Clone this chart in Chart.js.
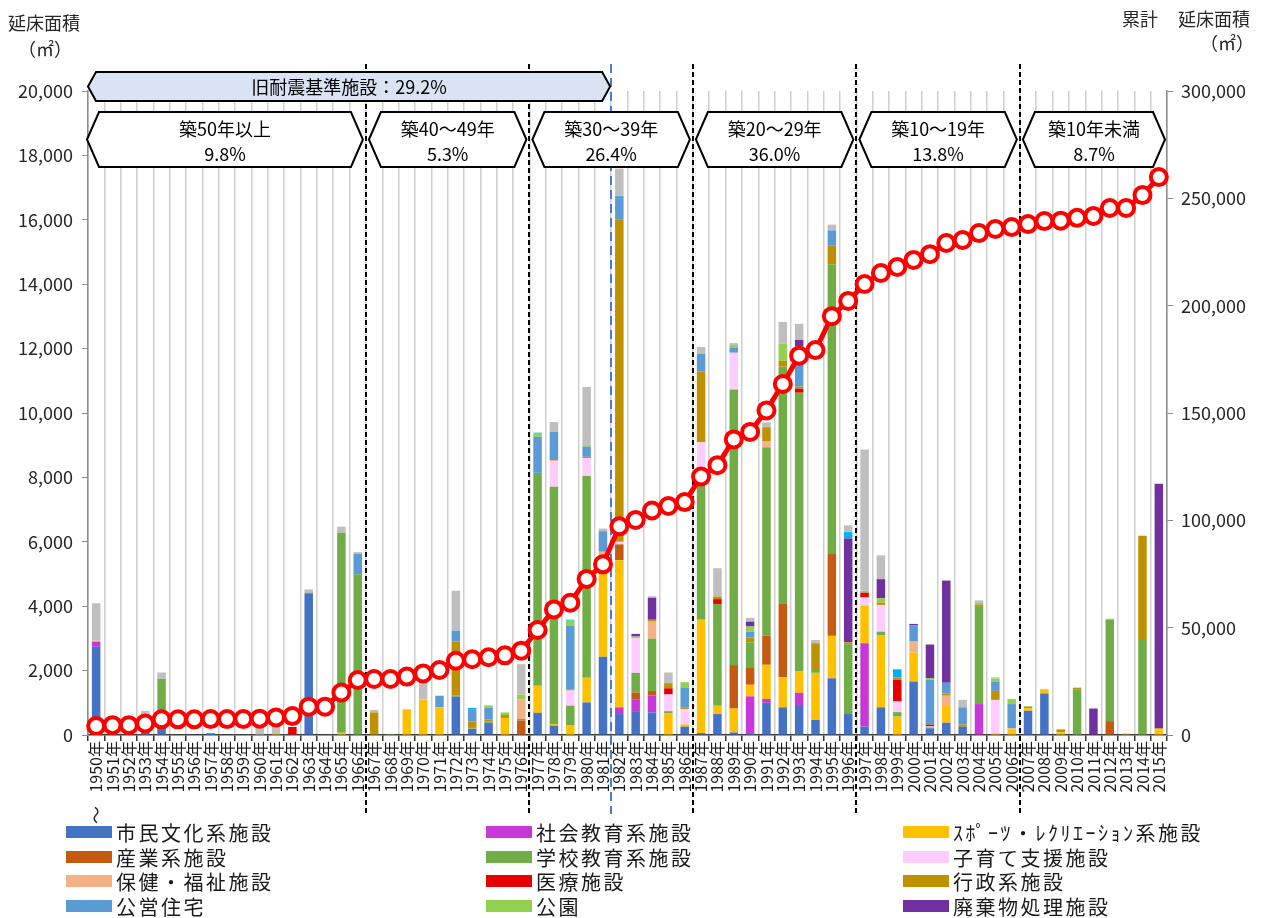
<!DOCTYPE html>
<html>
<head>
<meta charset="utf-8">
<script src="https://cdn.jsdelivr.net/npm/chart.js@4/dist/chart.umd.min.js"></script>
<style>
html,body{margin:0;padding:0;background:#fff;}
canvas{display:block;}
</style>
</head>
<body>
<canvas id="c" width="1261" height="918"></canvas>
<script>
// ---------- categories ----------
const years = [
'1950年','1951年','1952年','1953年','1954年','1955年','1956年','1957年','1958年','1959年',
'1960年','1961年','1962年','1963年','1964年','1965年','1966年','1967年','1968年','1969年',
'1970年','1971年','1972年','1973年','1974年','1975年','1976年','1977年','1978年','1979年',
'1980年','1981年','1982年','1983年','1984年','1985年','1986年','1987年','1988年','1989年',
'1990年','1991年','1992年','1993年','1994年','1995年','1996年','1997年','1998年','1999年',
'2000年','2001年','2002年','2003年','2004年','2005年','2006年','2007年','2008年','2009年',
'2010年','2011年','2012年','2013年','2014年','2015年'];

// ---------- series values (m2 per year) ----------
const civic = [
2740,0,0,450,300,0,0,0,0,0,
0,0,0,4400,0,0,0,0,0,0,
0,0,1190,200,380,0,0,690,290,0,
1010,2430,650,740,700,0,260,60,650,80,
60,1000,860,900,470,1760,650,260,860,0,
1660,210,380,260,0,0,0,750,1290,0,
0,0,0,0,0,0];
const socialEdu = [
160,0,0,0,0,0,0,0,0,0,
0,0,0,0,0,0,0,0,0,0,
0,0,0,0,0,0,0,0,0,0,
0,0,210,370,530,0,0,0,0,0,
1140,120,0,410,0,0,0,2590,0,0,
0,0,0,0,960,0,0,0,0,0,
0,0,0,0,0,0];
const sports = [
0,0,0,0,0,0,0,0,0,0,
0,30,0,0,0,70,0,0,0,800,
1100,860,0,20,0,530,0,840,50,310,
770,3160,4570,0,0,680,70,3520,260,740,
360,1060,930,660,1460,1320,0,1170,2230,570,
900,40,550,0,0,50,180,80,120,80,
0,0,0,0,0,180];
const industry = [
0,0,0,0,0,0,0,0,0,0,
0,0,0,0,0,0,0,0,0,0,
0,0,0,0,0,0,450,0,0,0,
0,0,490,210,140,0,0,0,0,1350,
520,900,2300,0,0,2540,0,0,0,0,
0,0,0,0,0,0,0,0,0,0,
0,0,430,0,0,0];
const school = [
0,0,0,0,1440,0,0,0,0,0,
0,0,0,0,0,6210,4990,0,30,0,
0,0,40,0,40,0,50,6610,7370,600,
6260,0,0,610,1620,60,0,4160,3160,8560,
800,5860,7350,8660,120,8990,2170,0,120,140,
0,0,0,0,3020,0,0,0,0,0,
1420,0,3160,0,2980,0];
const childcare = [
0,0,0,0,0,0,0,0,0,0,
0,0,0,0,0,0,0,0,0,0,
0,0,0,0,0,0,0,0,800,470,
560,0,80,1080,0,520,470,1350,0,1140,
0,0,0,0,0,0,0,250,830,330,
0,0,0,0,0,1040,0,0,0,0,
0,0,0,0,0,0];
const welfare = [
30,0,0,0,0,0,0,0,0,0,
0,0,0,0,0,0,0,0,0,0,
0,0,0,0,0,0,610,0,30,0,
0,100,0,0,530,0,0,0,0,0,
0,190,0,0,0,0,0,0,0,0,
340,30,290,0,0,0,30,0,0,0,
0,0,0,0,0,0];
const medical = [
0,0,0,0,0,0,0,0,0,0,
0,0,250,0,0,0,0,0,0,0,
0,0,0,0,0,0,0,0,0,0,
0,0,0,0,0,190,0,0,150,0,
0,0,0,120,0,0,0,150,0,670,
0,40,0,0,0,0,0,0,0,0,
0,0,0,0,0,0];
const admin = [
0,0,0,0,0,0,0,0,0,0,
0,0,0,0,0,0,0,700,0,0,
0,0,1670,200,60,90,0,0,0,40,
40,0,10000,0,60,160,60,2200,80,0,
150,430,180,70,800,600,60,0,70,80,
0,0,70,70,60,280,0,50,0,90,
50,0,0,40,3210,30];
const housing = [
0,0,0,0,0,0,0,0,0,0,
0,0,0,0,0,0,640,0,0,0,
0,360,340,380,370,0,0,1120,880,1980,
310,640,670,0,0,0,620,550,0,150,
180,0,0,1250,0,460,0,0,0,0,
500,1400,330,530,0,290,750,0,0,0,
0,0,0,0,0,0];
const park = [
0,0,0,0,0,0,0,0,0,0,
0,0,0,0,0,0,0,0,0,0,
0,0,0,0,70,80,140,100,0,150,
50,0,0,50,0,0,160,0,0,90,
160,0,530,0,0,0,0,60,140,0,
0,50,0,0,60,90,160,20,20,0,
0,0,20,0,0,0];
const waste = [
0,0,0,0,0,0,0,0,0,0,
0,0,0,0,0,0,0,0,0,0,
0,0,0,0,0,0,0,0,0,0,
0,0,0,80,680,0,0,0,0,0,
150,0,0,200,0,0,3220,0,590,0,
50,1040,3170,0,0,0,0,0,0,0,
0,820,0,0,0,7590];
const water = [
0,0,0,0,0,0,0,60,0,0,
0,0,0,0,0,0,0,0,0,0,
0,0,0,40,0,0,0,30,0,30,
0,0,60,0,0,0,0,0,0,0,
0,0,0,0,0,0,200,0,0,250,
0,0,0,0,0,0,0,0,0,0,
0,0,0,0,0,0];
const other = [
1160,0,0,300,200,0,0,0,0,0,
250,330,0,120,0,190,50,80,0,0,
550,0,1240,0,0,0,950,0,300,0,
1810,80,860,0,50,330,0,210,880,60,
120,150,680,500,100,180,210,4390,740,0,
0,0,20,230,80,40,0,0,0,20,
0,10,0,0,0,0];
// cumulative floor area (right axis)
const cumulative = [
4200,4600,4600,5400,7300,7300,7300,7400,7400,7400,
7600,8200,8800,13200,13200,19800,25600,26100,26100,27200,
28700,30300,34600,35300,36200,37100,39300,48900,58500,61600,
72700,79500,97200,100200,104600,106700,108500,120400,125700,137700,
141200,151200,163500,176700,179300,195100,202200,210100,215200,218000,
221300,224000,229200,230600,233800,235700,236600,238000,239400,239600,
240900,241800,245500,245500,251500,259900];

// ---------- tick values ----------
const leftTicks = [0,2000,4000,6000,8000,10000,12000,14000,16000,18000,20000];
const rightTicks = [0,50000,100000,150000,200000,250000,300000];

// ---------- annotations ----------
const bandNames = ['築50年以上','築40～49年','築30～39年','築20～29年','築10～19年','築10年未満'];
const bandShares = ['9.8%','5.3%','26.4%','36.0%','13.8%','8.7%'];
const bandStarts = ['1950年','1967年','1977年','1987年','1997年','2007年'];
const bandEnds   = ['1966年','1976年','1986年','1996年','2006年','2015年'];
const oldCodeText = '旧耐震基準施設：29.2%';
const oldCodeEnd = '1981年';

const series = [
  ['市民文化系施設', civic, '#4472C4', true],
  ['社会教育系施設', socialEdu, '#C838D8', true],
  ['ｽﾎﾟｰﾂ・ﾚｸﾘｴｰｼｮﾝ系施設', sports, '#FFC000', true],
  ['産業系施設', industry, '#C55A11', true],
  ['学校教育系施設', school, '#70AD47', true],
  ['子育て支援施設', childcare, '#FFCCFF', true],
  ['保健・福祉施設', welfare, '#F4B183', true],
  ['医療施設', medical, '#E60000', true],
  ['行政系施設', admin, '#BF9000', true],
  ['公営住宅', housing, '#5B9BD5', true],
  ['公園', park, '#92D050', true],
  ['廃棄物処理施設', waste, '#7030A0', true],
  ['供給処理施設', water, '#00B0F0', false],
  ['その他', other, '#BFBFBF', false]
];

const FONT = "'Noto Sans CJK JP','Noto Sans',sans-serif";
Chart.defaults.font.family = FONT;
Chart.defaults.color = '#262626';

const datasets = series.map(s => ({
  type: 'bar', label: s[0], data: s[1], backgroundColor: s[2],
  yAxisID: 'y', order: 2, categoryPercentage: 1.0, barPercentage: 0.52,
  inLegend: s[3]
}));
datasets.push({
  type: 'line', label: '累計延床面積', data: cumulative, yAxisID: 'y2', order: 1,
  borderColor: '#FF0000', borderWidth: 5, pointRadius: 8, pointBorderWidth: 4,
  pointBackgroundColor: '#FFFFFF', pointBorderColor: '#FF0000', tension: 0, inLegend: false
});

function hexagon(ctx, l, r, t, b, ind, fill) {
  const m = (t + b) / 2;
  ctx.beginPath();
  ctx.moveTo(l, m); ctx.lineTo(l + ind, t); ctx.lineTo(r - ind, t);
  ctx.lineTo(r, m); ctx.lineTo(r - ind, b); ctx.lineTo(l + ind, b); ctx.closePath();
  ctx.fillStyle = fill; ctx.fill();
  ctx.lineWidth = 2; ctx.strokeStyle = '#000'; ctx.lineJoin = 'miter'; ctx.stroke();
}

const overlay = {
  id: 'overlay',
  beforeDatasetsDraw(chart) {
    const {ctx, scales: {x}} = chart;
    const half = (x.getPixelForValue(1) - x.getPixelForValue(0)) / 2;
    ctx.save();
    ctx.lineWidth = 2;
    ctx.strokeStyle = '#000';
    ctx.setLineDash([5, 3]);
    bandStarts.slice(1).forEach(lbl => {
      const px = Math.round(x.getPixelForValue(years.indexOf(lbl)) - half);
      ctx.beginPath(); ctx.moveTo(px, 64); ctx.lineTo(px, 814); ctx.stroke();
    });
    ctx.strokeStyle = '#4A7CC9';
    ctx.setLineDash([9, 5]);
    const qx = Math.round(x.getPixelForValue(years.indexOf(oldCodeEnd)) + half);
    ctx.beginPath(); ctx.moveTo(qx, 64); ctx.lineTo(qx, 814); ctx.stroke();
    ctx.restore();
  },
  afterDraw(chart) {
    const {ctx, scales: {x}, chartArea} = chart;
    const half = (x.getPixelForValue(1) - x.getPixelForValue(0)) / 2;
    ctx.save();
    // old seismic code banner
    const l0 = chartArea.left;
    const r0 = x.getPixelForValue(years.indexOf(oldCodeEnd)) + half - 1;
    hexagon(ctx, l0, r0, 72, 101, 8, '#DAE3F3');
    ctx.fillStyle = '#000'; ctx.textAlign = 'center'; ctx.textBaseline = 'middle';
    ctx.font = '18px ' + FONT;
    ctx.fillText(oldCodeText, (l0 + r0) / 2, 87);
    // age bands
    bandNames.forEach((name, k) => {
      const i0 = years.indexOf(bandStarts[k]), i1 = years.indexOf(bandEnds[k]);
      const l = x.getPixelForValue(i0) - half + (k === 0 ? -1 : 3);
      const r = x.getPixelForValue(i1) + half - (k === bandNames.length - 1 ? 2 : 3);
      hexagon(ctx, l, r, 112, 167, 12, '#FFFFFF');
      ctx.fillStyle = '#000';
      ctx.fillText(name, (l + r) / 2, 129);
      ctx.fillText(bandShares[k], (l + r) / 2, 154);
    });
    // axis titles
    ctx.font = '18px ' + FONT;
    ctx.textAlign = 'left';
    ctx.fillStyle = '#262626';
    ctx.fillText('延床面積', 8, 23);
    ctx.fillText('（㎡）', 18, 49);
    ctx.fillText('累計', 1122, 19);
    ctx.fillText('延床面積', 1178, 19);
    ctx.textAlign = 'right';
    ctx.fillText('（㎡）', 1254, 43);
    // tilde under first label
    ctx.save();
    ctx.translate(x.getPixelForValue(0), 815);
    ctx.rotate(Math.PI / 2);
    ctx.textAlign = 'center';
    ctx.font = '18px ' + FONT;
    ctx.fillText('～', 0, 0);
    ctx.restore();
    // legend (3 columns)
    const colX = [66, 486, 903];
    const rowY = [832, 857, 881, 906];
    ctx.font = '20px ' + FONT;
    ctx.letterSpacing = '2.5px';
    ctx.textAlign = 'left';
    const items = chart.data.datasets.filter(d => d.inLegend);
    items.forEach((d, k) => {
      const cx = colX[k % 3], cy = rowY[Math.floor(k / 3)];
      ctx.fillStyle = d.backgroundColor;
      ctx.fillRect(cx, cy - 6, 46, 12);
      ctx.fillStyle = '#1a1a1a';
      ctx.fillText(d.label, cx + 50, cy + 1);
    });
    ctx.restore();
  }
};

new Chart(document.getElementById('c'), {
  data: { labels: years, datasets },
  options: {
    responsive: false,
    animation: false,
    layout: { padding: { top: 91, left: 0, right: 0, bottom: 0 } },
    plugins: { legend: { display: false }, tooltip: { enabled: false } },
    scales: {
      x: {
        stacked: true,
        offset: true,
        grid: { offset: true, color: '#CFCFCF', lineWidth: 1.5, tickLength: 6, tickColor: '#333', tickWidth: 1.5 },
        border: { color: '#404040', width: 1.5 },
        ticks: { autoSkip: false, maxRotation: 90, minRotation: 90, padding: 0, color: '#1a1a1a', font: { size: 16 } },
        afterFit: s => { s.height = 183; }
      },
      y: {
        stacked: true, min: 0, max: 20000, position: 'left',
        afterBuildTicks: s => { s.ticks = leftTicks.map(v => ({ value: v })); },
        ticks: { padding: 9, font: { size: 18 }, color: '#262626', callback: v => v.toLocaleString('en-US') },
        grid: { drawOnChartArea: false, tickLength: 6, color: '#8C8C8C' },
        border: { color: '#8C8C8C', width: 1.5 },
        afterFit: s => { s.width = 88; }
      },
      y2: {
        stacked: false, min: 0, max: 300000, position: 'right',
        afterBuildTicks: s => { s.ticks = rightTicks.map(v => ({ value: v })); },
        ticks: { padding: 8, font: { size: 18 }, color: '#262626', callback: v => v.toLocaleString('en-US') },
        grid: { drawOnChartArea: false, tickLength: 6, color: '#8C8C8C' },
        border: { color: '#8C8C8C', width: 1.5 },
        afterFit: s => { s.width = 94; }
      }
    }
  },
  plugins: [overlay]
});
</script>
</body>
</html>
